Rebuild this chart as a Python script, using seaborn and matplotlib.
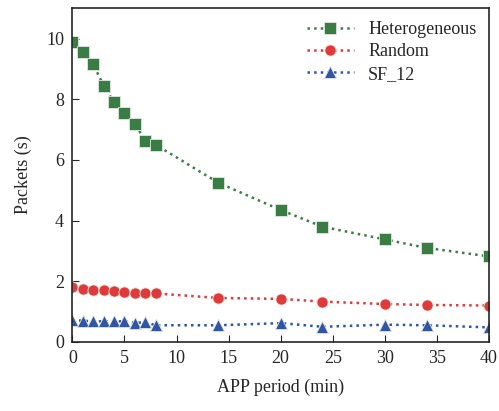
import numpy as np
import pandas as pd
import matplotlib
matplotlib.use("Agg")
import matplotlib.pyplot as plt
import seaborn as sns

# data
app_period = [0, 1, 2, 3, 4, 5, 6, 7, 8, 14, 20, 24, 30, 34, 40]
heterogeneous = [9.9, 9.55, 9.15, 8.45, 7.9, 7.55, 7.2, 6.62, 6.5, 5.25, 4.35, 3.8, 3.38, 3.1, 2.82]
random_vals = [1.8, 1.74, 1.72, 1.7, 1.68, 1.65, 1.6, 1.6, 1.6, 1.45, 1.42, 1.33, 1.25, 1.22, 1.2]
sf_12 = [0.72, 0.7, 0.68, 0.68, 0.68, 0.68, 0.63, 0.65, 0.55, 0.55, 0.62, 0.5, 0.57, 0.55, 0.48]

series = ["Heterogeneous", "Random", "SF_12"]
df = pd.DataFrame({
    "period": app_period * 3,
    "value": heterogeneous + random_vals + sf_12,
    "series": np.repeat(series, len(app_period)),
})

sns.set_style("ticks")
plt.rcParams["font.family"] = ["Liberation Serif", "DejaVu Serif"]
plt.rcParams["font.size"] = 13

colors = {"Heterogeneous": "#3a7d44", "Random": "#e0393a", "SF_12": "#2f55a4"}
markers = {"Heterogeneous": "s", "Random": "o", "SF_12": "^"}

fig, ax = plt.subplots(figsize=(4.99, 4.11), dpi=100)
for name in series:
    sub = df[df["series"] == name]
    sns.lineplot(data=sub, x="period", y="value", ax=ax, color=colors[name],
                 marker=markers[name], markersize=8, linestyle=":", lw=1.8,
                 markeredgecolor="#dfe8df", markeredgewidth=0.6, label=name)

ax.set_xlim(0, 40)
ax.set_ylim(0, 11)
ax.set_xticks(range(0, 41, 5))
ax.set_yticks(range(0, 11, 2))
ax.tick_params(direction="in", length=5, labelsize=13, pad=6)
for s in ax.spines.values():
    s.set_linewidth(1.2)
ax.set_xlabel("APP period (min)", fontsize=13, labelpad=8)
ax.set_ylabel("Packets (s)", fontsize=13, labelpad=10)
ax.legend(frameon=False, loc="upper right", fontsize=13, handlelength=2.6,
          borderaxespad=0.3, labelspacing=0.3)

plt.subplots_adjust(left=0.145, right=0.98, top=0.98, bottom=0.168)
plt.savefig("out.png")
